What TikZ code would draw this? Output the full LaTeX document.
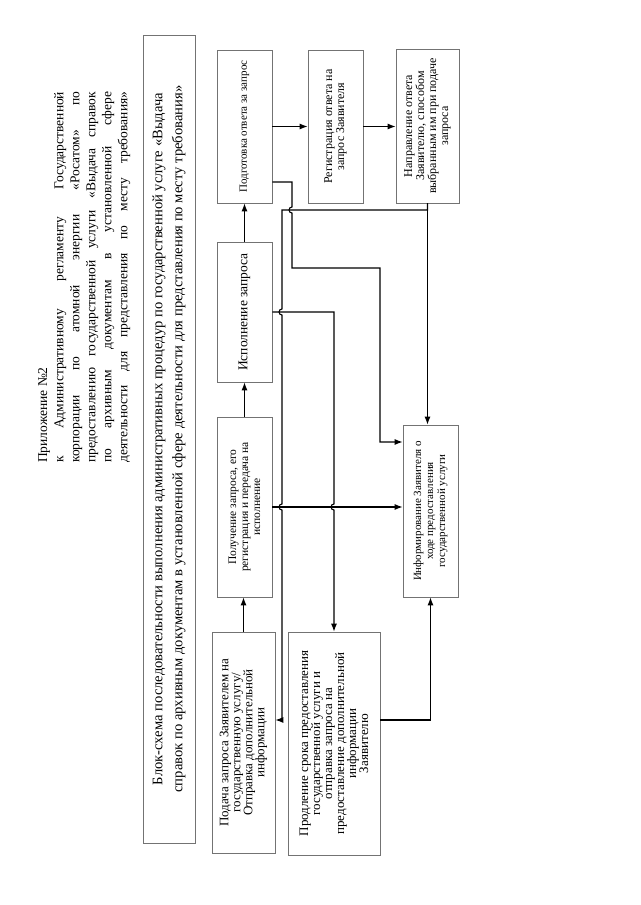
\documentclass[tikz,border=0pt]{standalone}
\usepackage{fontspec}
\setmainfont{Liberation Serif}
\usetikzlibrary{arrows.meta}

\tikzset{
  box/.style={draw=black!55, line width=0.7pt, inner sep=2pt, align=center,
    font=\fontsize{11}{12}\selectfont},
  bigtext/.style={font=\fontsize{13}{12}\selectfont},
  flow/.style={line width=1.1pt, -{Latex[length=8pt,width=6pt]}},
}

\begin{document}
\begin{tikzpicture}[x=1pt, y=1pt, rotate=90, every node/.style={transform shape}]
\useasboundingbox (0,0) rectangle (905,640);

% header
\node[anchor=north west, inner sep=0pt, font=\fontsize{13.5}{16}\selectfont] (app) at (442,602)
  {Приложение №2};
\node[anchor=north west, inner sep=0pt, text width=371pt, align=justify,
  font=\fontsize{13.5}{16}\selectfont] (head) at (442,586)
  {к Административному регламенту Государственной\linebreak
   корпорации по атомной энергии «Росатом» по\linebreak
   предоставлению государственной услуги «Выдача справок\linebreak
   по архивным документам в установленной сфере\linebreak
   деятельности для представления по месту требования»{\parfillskip=0pt\par}};

\node[draw=black!55, line width=0.7pt, minimum width=808pt, minimum height=52pt,
  align=center, font=\fontsize{14.6}{20}\selectfont] (title) at (466,471)
  {Блок-схема последовательности выполнения административных процедур по государственной услуге «Выдача\\
   справок по архивным документам в установленной сфере деятельности для представления по месту требования»};

% boxes
\node[box, minimum width=153pt, minimum height=55pt] (podg) at (778.5,395.5) {Подготовка ответа за запрос};
\node[box, font=\fontsize{13.5}{12}\selectfont, minimum width=140pt, minimum height=55pt] (ispoln) at (593,395.5) {Исполнение запроса};
\node[box, font=\fontsize{11.5}{12}\selectfont, minimum width=180pt, minimum height=55pt] (poluch) at (398,395.5)
  {Получение запроса, его\\регистрация и передача на\\исполнение};
\node[box, bigtext, minimum width=221pt, minimum height=63pt] (podacha) at (162.5,396.5)
  {Подача запроса Заявителем на\\государственную услугу/\\Отправка дополнительной\\информации};
\node[box, bigtext, minimum width=223pt, minimum height=92pt] (prodl) at (161.5,306)
  {Продление срока предоставления\\государственной услуги и\\отправка запроса на\\предоставление дополнительной\\информации\\Заявителю};
\node[box, minimum width=172pt, minimum height=55pt] (inform) at (394,209.5)
  {Информирование Заявителя о\\ходе предоставления\\государственной услуги};
\node[box, font=\fontsize{12}{12}\selectfont, minimum width=153pt, minimum height=55pt] (regist) at (778.5,304.5)
  {Регистрация ответа на\\запрос Заявителя};
\node[box, font=\fontsize{12}{12}\selectfont, minimum width=154pt, minimum height=63pt] (naprav) at (779,212.5)
  {Направление ответа\\Заявителю, способом\\выбранным им при подаче\\запроса};

% main chain
\draw[flow] (podacha.east) -- (podacha.east -| poluch.west);
\draw[flow] (poluch.east) -- (ispoln.west);
\draw[flow] (ispoln.east) -- (podg.west);
\draw[flow] (podg.south) -- (podg.south |- regist.north);
\draw[flow] (regist.south) -- (regist.south |- naprav.north);
\draw[flow] (naprav.west) -- (inform.east |- naprav.west);

% return lines with jumps
\draw[flow] (723,0 |- podg.south) -- (723,348) -- (698,348)
  arc[start angle=0, end angle=180, radius=3] -- (637,348) -- (637,260)
  -- (463,260) -- (463,0 |- inform.north);
\draw[flow] (naprav.west) -- (695,0 |- naprav.west) -- (695,358) -- (596,358)
  arc[start angle=0, end angle=180, radius=3] -- (401,358)
  arc[start angle=0, end angle=180, radius=3] -- (185,358) -- (185,0 |- podacha.south);
\draw[flow] (ispoln.south) -- (ispoln.south |- prodl.east) -- (401,0 |- prodl.east)
  arc[start angle=0, end angle=180, radius=3] -- (prodl.east);
\draw[flow] (poluch.south) -- (poluch.south |- inform.north);
\draw[flow] (185,0 |- prodl.south) -- (185,0 |- inform.west) -- (inform.west);

\end{tikzpicture}
\end{document}
